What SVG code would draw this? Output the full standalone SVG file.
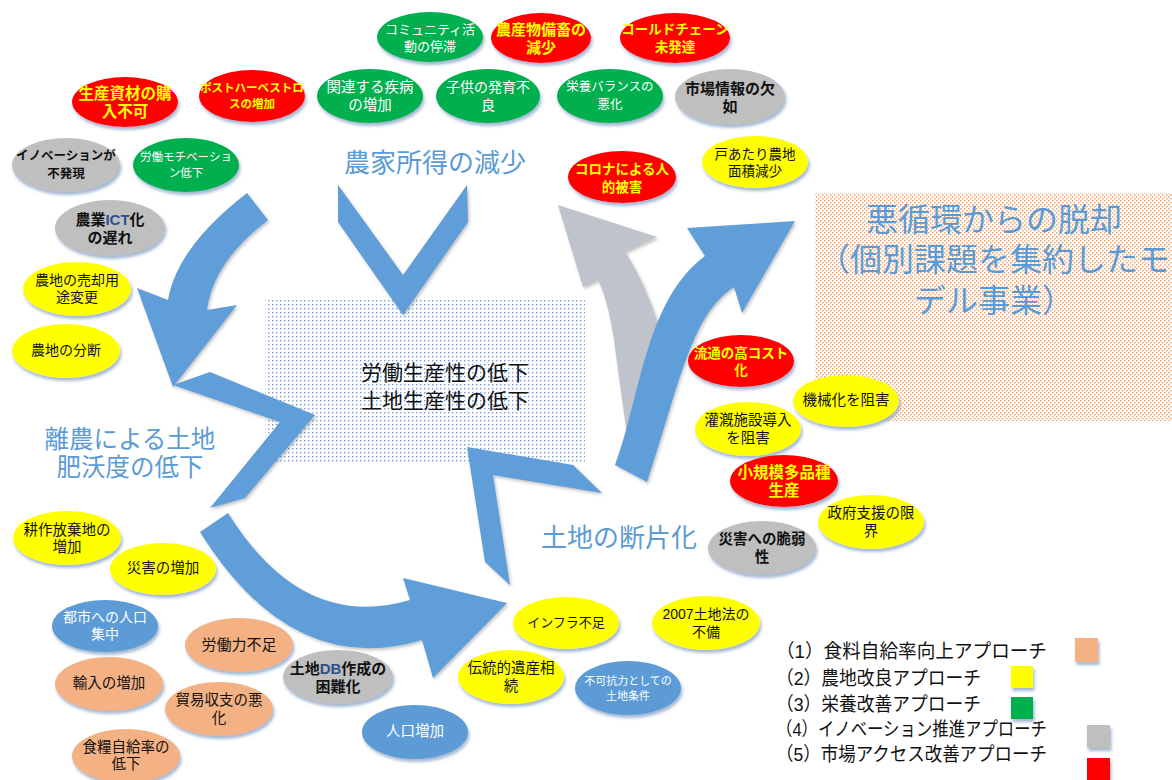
<svg xmlns="http://www.w3.org/2000/svg" width="1172" height="780" viewBox="0 0 1172 780">
<defs>
<filter id="sh" x="-15%" y="-15%" width="135%" height="150%"><feDropShadow dx="1.5" dy="3" stdDeviation="1.4" flood-color="#5a7fb0" flood-opacity="0.55"/></filter>
<filter id="ash" x="-10%" y="-10%" width="125%" height="125%"><feDropShadow dx="1.5" dy="2" stdDeviation="1.5" flood-color="#555" flood-opacity="0.35"/></filter>
<pattern id="pb" width="4" height="4" patternUnits="userSpaceOnUse"><rect width="1.4" height="1.4" fill="#6f9fd8"/></pattern>
<pattern id="po" width="4" height="4" patternUnits="userSpaceOnUse"><rect width="1.5" height="1.5" fill="#f4a46a"/><rect x="2" y="2" width="1.5" height="1.5" fill="#f4a46a"/></pattern>
</defs>
<style>
text{font-family:"Liberation Sans","Noto Sans CJK JP",sans-serif;text-anchor:middle;dominant-baseline:central}
ellipse,.sq{filter:url(#sh)}
.red{fill:#ff0000}.yel{fill:#ffff00}.grn{fill:#00b050}.gry{fill:#bfbfbf}.blu{fill:#5b9bd5}.sal{fill:#f4b183}
.ty{fill:#ffff00;font-weight:bold}.tk{fill:#111}.tkb{fill:#111;font-weight:bold}.tw{fill:#fff}
.arr{fill:#5f9ed8;filter:url(#ash)}.garr{fill:#bfc3cb;filter:url(#ash)}
.big{fill:#5b9bd5}
.leg{text-anchor:start;fill:#111;font-size:19px}
.ab{fill:#2e4f8c}
</style>
<rect x="265" y="300" width="320" height="163" fill="url(#pb)"/>
<rect x="815" y="193" width="357" height="228" fill="url(#po)"/>
<g id="connectors">
<path class="arr" d="M247,193 Q177,247 168,300 L137,288 L173,387 L237,305 L207,310 Q213,262 268,220 Z"/>
<polygon class="arr" points="338,185 403,275 467,185 468,222 403,315 338,222"/>
<polygon class="arr" points="173,385 210,372 315,415 245,498 210,508 280,422"/>
<path class="arr" d="M228,513 Q302,632 410,600 L403,578 L507,603 L433,678 L422,640 Q292,679 200,532 Z"/>
<polygon class="arr" points="467,447 573,465 602,493 493,475 510,585 485,562"/>
<path class="garr" d="M558,205 L657,237 L625,252 Q645,282 660,330 L632,470 Q622,400 614,340 Q608,300 598,280 L583,287 Z"/>
<path class="arr" d="M615,465 C640,400 645,300 705,256 L687,228 L795,221 L742,313 L734,287 C690,315 678,390 647,482 Z"/>
</g>
<g id="labels">
<text class="big" x="435" y="163" font-size="26">農家所得の減少</text>
<text class="big" x="130" y="439.5" font-size="24.5">離農による土地</text>
<text class="big" x="130" y="467.5" font-size="24.5">肥沃度の低下</text>
<text class="big" x="619" y="538" font-size="26">土地の断片化</text>
<text class="big" x="994" y="220" font-size="32">悪循環からの脱却</text>
<text class="big" x="994" y="260" font-size="32">（個別課題を集約したモ</text>
<text class="big" x="994" y="301" font-size="32">デル事業）</text>
<text class="tk" x="445" y="372" font-size="21">労働生産性の低下</text>
<text class="tk" x="445" y="400" font-size="21">土地生産性の低下</text>
</g>
<g id="n1"><ellipse class="grn" cx="430" cy="37" rx="53" ry="25"/><text class="tw" font-size="13"><tspan x="430" y="29">コミュニティ活</tspan><tspan x="430" y="46">動の停滞</tspan></text></g>
<g id="n2"><ellipse class="red" cx="541" cy="38" rx="50" ry="25"/><text class="ty" font-size="15"><tspan x="541" y="29">農産物備畜の</tspan><tspan x="541" y="47">減少</tspan></text></g>
<g id="n3"><ellipse class="red" cx="675" cy="38" rx="55" ry="25"/><text class="ty" font-size="13.5"><tspan x="675" y="29">コールドチェーン</tspan><tspan x="675" y="47">未発達</tspan></text></g>
<g id="n4"><ellipse class="red" cx="125" cy="102" rx="53" ry="25"/><text class="ty" font-size="15.5"><tspan x="125" y="93">生産資材の購</tspan><tspan x="125" y="111">入不可</tspan></text></g>
<g id="n5"><ellipse class="red" cx="252" cy="96" rx="53" ry="26"/><text class="ty" font-size="11.5"><tspan x="252" y="88">ポストハーベストロ</tspan><tspan x="252" y="104">スの増加</tspan></text></g>
<g id="n6"><ellipse class="grn" cx="370" cy="96" rx="53" ry="27"/><text class="tw" font-size="14.5"><tspan x="370" y="87">関連する疾病</tspan><tspan x="370" y="105">の増加</tspan></text></g>
<g id="n7"><ellipse class="grn" cx="488" cy="96" rx="52" ry="27"/><text class="tw" font-size="14"><tspan x="488" y="87">子供の発育不</tspan><tspan x="488" y="105">良</tspan></text></g>
<g id="n8"><ellipse class="grn" cx="610" cy="96" rx="53" ry="27"/><text class="tw" font-size="12.5"><tspan x="610" y="87">栄養バランスの</tspan><tspan x="610" y="105">悪化</tspan></text></g>
<g id="n9"><ellipse class="gry" cx="730" cy="97" rx="55" ry="28"/><text class="tkb" font-size="15"><tspan x="730" y="88">市場情報の欠</tspan><tspan x="730" y="106">如</tspan></text></g>
<g id="n10"><ellipse class="gry" cx="66" cy="165" rx="54" ry="27"/><text class="tkb" font-size="12.5"><tspan x="66" y="156">イノベーションが</tspan><tspan x="66" y="174">不発現</tspan></text></g>
<g id="n11"><ellipse class="grn" cx="186" cy="165" rx="53" ry="27"/><text class="tw" font-size="11.5"><tspan x="186" y="157">労働モチベーショ</tspan><tspan x="186" y="173">ン低下</tspan></text></g>
<g id="n12"><ellipse class="gry" cx="110" cy="228" rx="55" ry="28"/><text class="tkb" font-size="15"><tspan x="110" y="219">農業<tspan class="ab">ICT</tspan>化</tspan><tspan x="110" y="237">の遅れ</tspan></text></g>
<g id="n13"><ellipse class="red" cx="622" cy="177" rx="54" ry="26"/><text class="ty" font-size="13.5"><tspan x="622" y="169">コロナによる人</tspan><tspan x="622" y="187">的被害</tspan></text></g>
<g id="n14"><ellipse class="yel" cx="755" cy="162" rx="53" ry="26"/><text class="tk" font-size="13.5"><tspan x="755" y="154">戸あたり農地</tspan><tspan x="755" y="171">面積減少</tspan></text></g>
<g id="n15"><ellipse class="yel" cx="77" cy="289" rx="54" ry="27"/><text class="tk" font-size="14"><tspan x="77" y="280">農地の売却用</tspan><tspan x="77" y="297">途変更</tspan></text></g>
<g id="n16"><ellipse class="yel" cx="66" cy="351" rx="54" ry="27"/><text class="tk" font-size="14" x="66" y="350">農地の分断</text></g>
<g id="n17"><ellipse class="yel" cx="67" cy="538" rx="54" ry="27"/><text class="tk" font-size="14.5"><tspan x="67" y="529.5">耕作放棄地の</tspan><tspan x="67" y="546.5">増加</tspan></text></g>
<g id="n18"><ellipse class="yel" cx="163" cy="569" rx="53" ry="26"/><text class="tk" font-size="14.5" x="163" y="568">災害の増加</text></g>
<g id="n19"><ellipse class="blu" cx="105" cy="626" rx="53" ry="26"/><text class="tw" font-size="14"><tspan x="105" y="617">都市への人口</tspan><tspan x="105" y="634">集中</tspan></text></g>
<g id="n20"><ellipse class="sal" cx="239" cy="645" rx="54" ry="27"/><text class="tk" font-size="15" x="239" y="644">労働力不足</text></g>
<g id="n21"><ellipse class="sal" cx="109" cy="684" rx="54" ry="27"/><text class="tk" font-size="14.5" x="109" y="683">輸入の増加</text></g>
<g id="n22"><ellipse class="sal" cx="219" cy="709" rx="54" ry="27"/><text class="tk" font-size="14.5"><tspan x="219" y="700">貿易収支の悪</tspan><tspan x="219" y="718">化</tspan></text></g>
<g id="n23"><ellipse class="sal" cx="126" cy="756" rx="54" ry="27"/><text class="tk" font-size="14.5"><tspan x="126" y="747">食糧自給率の</tspan><tspan x="126" y="764">低下</tspan></text></g>
<g id="n24"><ellipse class="gry" cx="338" cy="677" rx="55" ry="27"/><text class="tkb" font-size="15"><tspan x="338" y="668">土地<tspan class="ab">DB</tspan>作成の</tspan><tspan x="338" y="686">困難化</tspan></text></g>
<g id="n25"><ellipse class="blu" cx="415" cy="732" rx="53" ry="27"/><text class="tw" font-size="14.5" x="415" y="731">人口増加</text></g>
<g id="n26"><ellipse class="yel" cx="566" cy="623" rx="53" ry="26"/><text class="tk" font-size="13" x="566" y="622">インフラ不足</text></g>
<g id="n27"><ellipse class="yel" cx="511" cy="677" rx="53" ry="27"/><text class="tk" font-size="14.5"><tspan x="511" y="668">伝統的遺産相</tspan><tspan x="511" y="686">続</tspan></text></g>
<g id="n28"><ellipse class="blu" cx="628" cy="688" rx="53" ry="27"/><text class="tw" font-size="11"><tspan x="628" y="681">不可抗力としての</tspan><tspan x="628" y="696">土地条件</tspan></text></g>
<g id="n29"><ellipse class="yel" cx="706" cy="623" rx="54" ry="27"/><text class="tk" font-size="14"><tspan x="706" y="614">2007土地法の</tspan><tspan x="706" y="632">不備</tspan></text></g>
<g id="n30"><ellipse class="red" cx="741" cy="361" rx="53" ry="26"/><text class="ty" font-size="13.5"><tspan x="741" y="353">流通の高コスト</tspan><tspan x="741" y="370">化</tspan></text></g>
<g id="n31"><ellipse class="yel" cx="846" cy="401" rx="53" ry="26"/><text class="tk" font-size="14.5" x="846" y="400">機械化を阻害</text></g>
<g id="n32"><ellipse class="yel" cx="748" cy="429" rx="53" ry="27"/><text class="tk" font-size="14.5"><tspan x="748" y="420">灌漑施設導入</tspan><tspan x="748" y="438">を阻害</tspan></text></g>
<g id="n33"><ellipse class="red" cx="784" cy="481" rx="54" ry="26"/><text class="ty" font-size="15.5"><tspan x="784" y="472">小規模多品種</tspan><tspan x="784" y="490">生産</tspan></text></g>
<g id="n34"><ellipse class="yel" cx="871" cy="522" rx="53" ry="27"/><text class="tk" font-size="14.5"><tspan x="871" y="513">政府支援の限</tspan><tspan x="871" y="531">界</tspan></text></g>
<g id="n35"><ellipse class="gry" cx="762" cy="548" rx="54" ry="27"/><text class="tkb" font-size="14.5"><tspan x="762" y="539">災害への脆弱</tspan><tspan x="762" y="557">性</tspan></text></g>
<g id="legend">
<text class="leg" x="776" y="651" textLength="271" lengthAdjust="spacingAndGlyphs">（1）食料自給率向上アプローチ</text>
<text class="leg" x="776" y="678" textLength="205" lengthAdjust="spacingAndGlyphs">（2）農地改良アプローチ</text>
<text class="leg" x="776" y="704" textLength="205" lengthAdjust="spacingAndGlyphs">（3）栄養改善アプローチ</text>
<text class="leg" x="776" y="729" textLength="271" lengthAdjust="spacingAndGlyphs">（4）イノベーション推進アプローチ</text>
<text class="leg" x="776" y="754" textLength="271" lengthAdjust="spacingAndGlyphs">（5）市場アクセス改善アプローチ</text>
<rect class="sq sal" x="1075" y="638" width="23" height="24"/>
<rect class="sq yel" x="1011" y="666" width="22" height="22"/>
<rect class="sq grn" x="1011" y="697" width="22" height="22"/>
<rect class="sq gry" x="1087" y="725" width="23" height="23"/>
<rect class="sq red" x="1087" y="758" width="23" height="22"/>
</g>
</svg>
